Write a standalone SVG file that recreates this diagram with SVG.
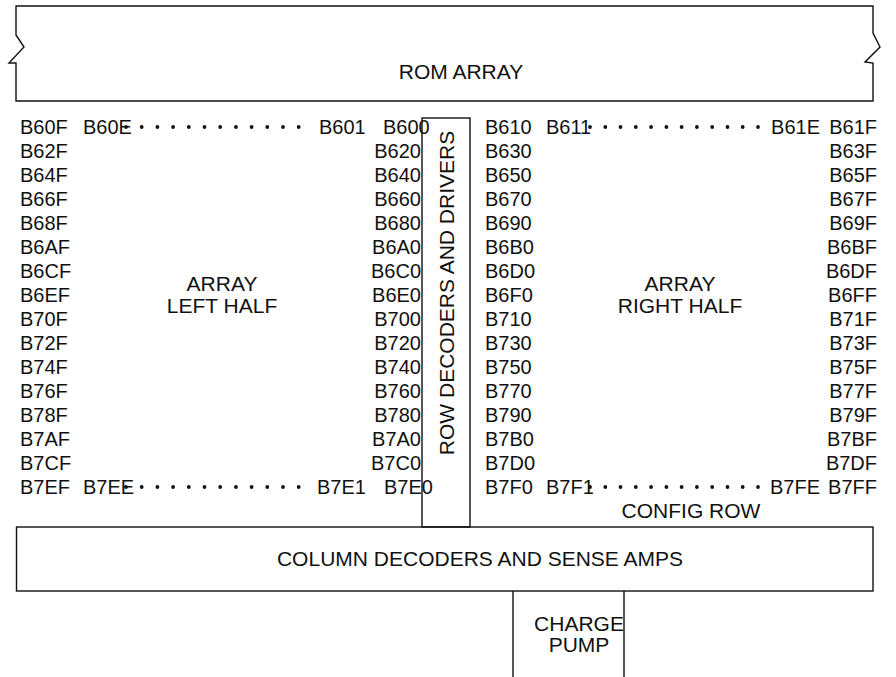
<svg xmlns="http://www.w3.org/2000/svg" xmlns:xlink="http://www.w3.org/1999/xlink" width="896" height="677" viewBox="0 0 896 677">
<style>
.ln{fill:none;stroke:#111;stroke-width:1.4}
.t{font-family:"Liberation Sans",Arial,sans-serif;font-size:20px;fill:#111}
.b{font-family:"Liberation Sans",Arial,sans-serif;font-size:21px;fill:#111}
.e{text-anchor:end}
.m{text-anchor:middle}
.d{fill:#111}
</style>
<defs><circle id="dot" r="1.9" class="d"/></defs>
<rect width="896" height="677" fill="#fff"/>
<g id="rom-array">
<path class="ln" d="M16,101 V63 H9 L24,47 L16,35 V6 H873 V33 L880,47 L865,62 L873,63 V101 Z"/>
<text class="b m" x="461" y="79">ROM ARRAY</text>
</g>
<g id="row-decoders">
<rect class="ln" x="422" y="118" width="48" height="409"/>
<text class="b m" transform="translate(453.5,293) rotate(-90)">ROW DECODERS AND DRIVERS</text>
</g>
<g id="array-left-half">
<text class="b m" x="222" y="291">ARRAY</text>
<text class="b m" x="222" y="312.5">LEFT HALF</text>
<g class="t">
<text x="20" y="134">B60F</text><text x="83" y="134">B60E</text><text x="319" y="134">B601</text><text x="383" y="134">B600</text>
<text x="20" y="158">B62F</text><text x="20" y="182">B64F</text><text x="20" y="206">B66F</text><text x="20" y="230">B68F</text>
<text x="20" y="254">B6AF</text><text x="20" y="278">B6CF</text><text x="20" y="302">B6EF</text><text x="20" y="326">B70F</text>
<text x="20" y="350">B72F</text><text x="20" y="374">B74F</text><text x="20" y="398">B76F</text><text x="20" y="422">B78F</text>
<text x="20" y="446">B7AF</text><text x="20" y="470">B7CF</text>
<text x="20" y="494">B7EF</text><text x="83" y="494">B7EE</text><text x="317" y="494">B7E1</text><text x="384" y="494">B7E0</text>
</g>
<g class="t e">
<text x="421" y="158">B620</text><text x="421" y="182">B640</text><text x="421" y="206">B660</text><text x="421" y="230">B680</text>
<text x="421" y="254">B6A0</text><text x="421" y="278">B6C0</text><text x="421" y="302">B6E0</text><text x="421" y="326">B700</text>
<text x="421" y="350">B720</text><text x="421" y="374">B740</text><text x="421" y="398">B760</text><text x="421" y="422">B780</text>
<text x="421" y="446">B7A0</text><text x="421" y="470">B7C0</text>
</g>
<g>
<use xlink:href="#dot" x="126" y="127"/><use xlink:href="#dot" x="141.7" y="127"/><use xlink:href="#dot" x="157.4" y="127"/><use xlink:href="#dot" x="173.1" y="127"/>
<use xlink:href="#dot" x="188.8" y="127"/><use xlink:href="#dot" x="204.5" y="127"/><use xlink:href="#dot" x="220.2" y="127"/><use xlink:href="#dot" x="235.9" y="127"/>
<use xlink:href="#dot" x="251.6" y="127"/><use xlink:href="#dot" x="267.3" y="127"/><use xlink:href="#dot" x="283" y="127"/><use xlink:href="#dot" x="298.7" y="127"/>
<use xlink:href="#dot" x="126" y="487"/><use xlink:href="#dot" x="141.7" y="487"/><use xlink:href="#dot" x="157.4" y="487"/><use xlink:href="#dot" x="173.1" y="487"/>
<use xlink:href="#dot" x="188.8" y="487"/><use xlink:href="#dot" x="204.5" y="487"/><use xlink:href="#dot" x="220.2" y="487"/><use xlink:href="#dot" x="235.9" y="487"/>
<use xlink:href="#dot" x="251.6" y="487"/><use xlink:href="#dot" x="267.3" y="487"/><use xlink:href="#dot" x="283" y="487"/><use xlink:href="#dot" x="298.7" y="487"/>
</g>
</g>
<g id="array-right-half">
<text class="b m" x="680" y="291">ARRAY</text>
<text class="b m" x="680" y="312.5">RIGHT HALF</text>
<g class="t">
<text x="485" y="134">B610</text><text x="546" y="134">B611</text>
<text x="485" y="158">B630</text><text x="485" y="182">B650</text><text x="485" y="206">B670</text><text x="485" y="230">B690</text>
<text x="485" y="254">B6B0</text><text x="485" y="278">B6D0</text><text x="485" y="302">B6F0</text><text x="485" y="326">B710</text>
<text x="485" y="350">B730</text><text x="485" y="374">B750</text><text x="485" y="398">B770</text><text x="485" y="422">B790</text>
<text x="485" y="446">B7B0</text><text x="485" y="470">B7D0</text>
<text x="485" y="494">B7F0</text><text x="546" y="494">B7F1</text>
</g>
<g class="t e">
<text x="820" y="134">B61E</text><text x="877" y="134">B61F</text>
<text x="877" y="158">B63F</text><text x="877" y="182">B65F</text><text x="877" y="206">B67F</text><text x="877" y="230">B69F</text>
<text x="877" y="254">B6BF</text><text x="877" y="278">B6DF</text><text x="877" y="302">B6FF</text><text x="877" y="326">B71F</text>
<text x="877" y="350">B73F</text><text x="877" y="374">B75F</text><text x="877" y="398">B77F</text><text x="877" y="422">B79F</text>
<text x="877" y="446">B7BF</text><text x="877" y="470">B7DF</text>
<text x="820" y="494">B7FE</text><text x="877" y="494">B7FF</text>
</g>
<g>
<use xlink:href="#dot" x="590" y="127"/><use xlink:href="#dot" x="605.3" y="127"/><use xlink:href="#dot" x="620.5" y="127"/><use xlink:href="#dot" x="635.8" y="127"/>
<use xlink:href="#dot" x="651.1" y="127"/><use xlink:href="#dot" x="666.4" y="127"/><use xlink:href="#dot" x="681.6" y="127"/><use xlink:href="#dot" x="696.9" y="127"/>
<use xlink:href="#dot" x="712.2" y="127"/><use xlink:href="#dot" x="727.5" y="127"/><use xlink:href="#dot" x="742.7" y="127"/><use xlink:href="#dot" x="758" y="127"/>
<use xlink:href="#dot" x="590" y="487"/><use xlink:href="#dot" x="605.3" y="487"/><use xlink:href="#dot" x="620.5" y="487"/><use xlink:href="#dot" x="635.8" y="487"/>
<use xlink:href="#dot" x="651.1" y="487"/><use xlink:href="#dot" x="666.4" y="487"/><use xlink:href="#dot" x="681.6" y="487"/><use xlink:href="#dot" x="696.9" y="487"/>
<use xlink:href="#dot" x="712.2" y="487"/><use xlink:href="#dot" x="727.5" y="487"/><use xlink:href="#dot" x="742.7" y="487"/><use xlink:href="#dot" x="758" y="487"/>
</g>
<text class="b m" x="691" y="518">CONFIG ROW</text>
</g>
<g id="column-decoders">
<rect class="ln" x="16.5" y="527" width="856.5" height="64"/>
<text class="b m" x="480" y="565.5">COLUMN DECODERS AND SENSE AMPS</text>
</g>
<g id="charge-pump">
<path class="ln" d="M513,591 V677 M624,591 V677"/>
<text class="b m" x="579" y="630.5">CHARGE</text>
<text class="b m" x="579" y="652">PUMP</text>
</g>
<g id="connectors"/>
</svg>
